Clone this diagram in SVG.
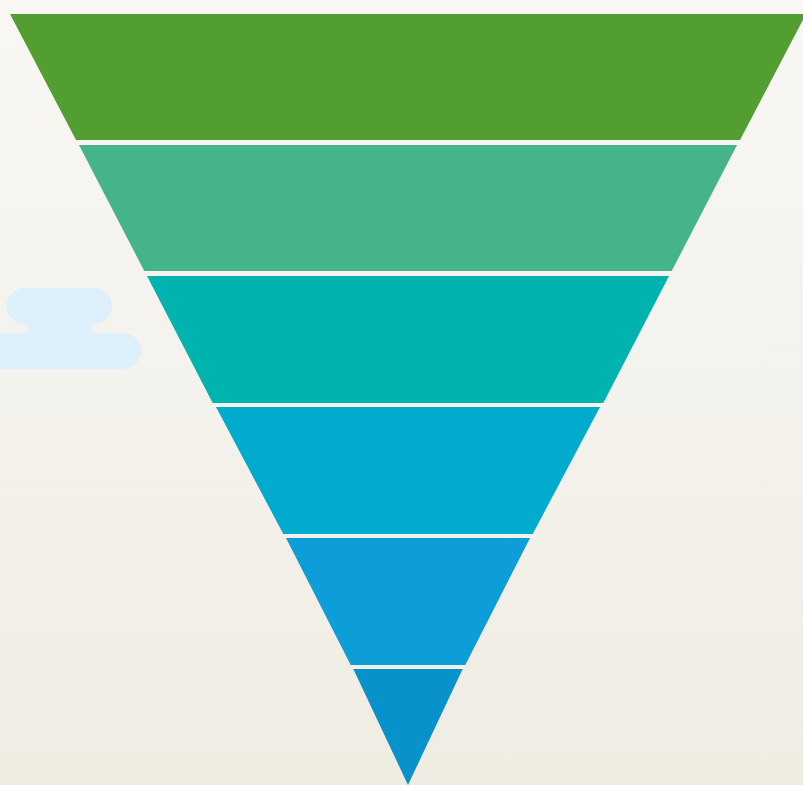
<svg xmlns="http://www.w3.org/2000/svg" width="803" height="785" viewBox="0 0 803 785">
  <defs>
    <linearGradient id="bg" x1="0" y1="0" x2="0" y2="1">
      <stop offset="0" stop-color="#f8f7f3"/>
      <stop offset="0.5" stop-color="#f4f2ec"/>
      <stop offset="1" stop-color="#efece2"/>
    </linearGradient>
  </defs>
  <style>
    .band { stroke: none; }
    .cloud { fill: #ddf0fb; }
  </style>
  <rect x="0" y="0" width="803" height="785" fill="url(#bg)"/>
  <g id="cloud">
    <path class="cloud" d="M25 288 H94 A18 18 0 0 1 94 324 H95.5 A4.5 4.5 0 0 0 91 328.5 A4.5 4.5 0 0 0 95.5 333 H123 A18 18 0 0 1 123 369 H-10 V333 H23.5 A4.5 4.5 0 0 0 28 328.5 A4.5 4.5 0 0 0 24 324 A18 18 0 0 1 25 288 Z"/>
  </g>
  <g id="band1"><polygon class="band" fill="#529e30" points="10,14 806,14 740,140 76,140"/></g>
  <g id="band2"><polygon class="band" fill="#46b489" points="79,145 737,145 671.7,271 144.3,271"/></g>
  <g id="band3"><polygon class="band" fill="#00b3ae" points="147,276 669,276 603.3,403 212.7,403"/></g>
  <g id="band4"><polygon class="band" fill="#00abcd" points="216,407 600,407 532.7,534 283.3,534"/></g>
  <g id="band5"><polygon class="band" fill="#0d9eda" points="286,538 530,538 465.3,665 350.7,665"/></g>
  <g id="band6"><polygon class="band" fill="#0892cc" points="353.3,669 462.7,669 408,785"/></g>
  <g id="connectors"></g>
</svg>
